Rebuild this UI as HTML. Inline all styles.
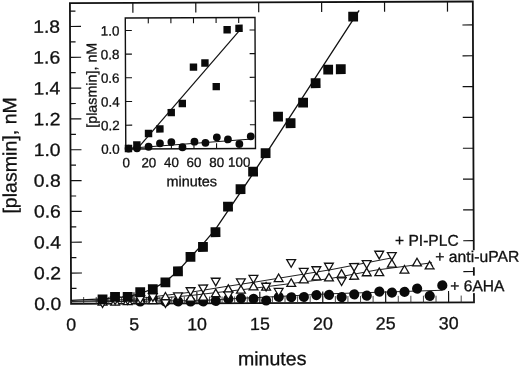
<!DOCTYPE html>
<html lang="en"><head><meta charset="utf-8"><title>plasmin generation</title>
<style>html,body{margin:0;padding:0;background:#fff}svg{display:block}text{font-family:"Liberation Sans",Arial,Helvetica,sans-serif;fill:#111;stroke:#111;stroke-width:0.3px}</style></head><body>
<svg width="520" height="367" viewBox="0 0 520 367">
<rect width="520" height="367" fill="#fff"/>
<g transform="rotate(-0.22 272 153)">
<g stroke="#111" stroke-width="1.8" fill="none" stroke-linecap="butt">
<rect x="70.5" y="2.3" width="402.9" height="300.8"/>
<path d="M83.09 303.1v-6.8 M95.67 303.1v-6.8 M108.25 303.1v-6.8 M120.84 303.1v-6.8 M146.01 303.1v-6.8 M158.59 303.1v-6.8 M171.18 303.1v-6.8 M183.77 303.1v-6.8 M208.94 303.1v-6.8 M221.52 303.1v-6.8 M234.11 303.1v-6.8 M246.69 303.1v-6.8 M271.86 303.1v-6.8 M284.45 303.1v-6.8 M297.03 303.1v-6.8 M309.62 303.1v-6.8 M334.79 303.1v-6.8 M347.37 303.1v-6.8 M359.96 303.1v-6.8 M372.54 303.1v-6.8 M397.71 303.1v-6.8 M410.30 303.1v-6.8 M422.88 303.1v-6.8 M435.47 303.1v-6.8 M460.64 303.1v-6.8 M473.22 303.1v-6.8 " stroke-width="0.9" stroke="#333"/>
<path d="M133.43 303.1v-11.5 M133.43 2.3v10 M196.35 303.1v-11.5 M196.35 2.3v10 M259.27 303.1v-11.5 M259.27 2.3v10 M322.20 303.1v-11.5 M322.20 2.3v10 M385.12 303.1v-11.5 M385.12 2.3v10 M448.05 303.1v-11.5 M448.05 2.3v10 M70.5 287.69h5.5 M70.5 272.28h11 M473.4 272.28h-10.5 M70.5 256.87h5.5 M70.5 241.46h11 M473.4 241.46h-10.5 M70.5 226.05h5.5 M70.5 210.64h11 M473.4 210.64h-10.5 M70.5 195.23h5.5 M70.5 179.82h11 M473.4 179.82h-10.5 M70.5 164.41h5.5 M70.5 149.00h11 M473.4 149.00h-10.5 M70.5 133.59h5.5 M70.5 118.18h11 M473.4 118.18h-10.5 M70.5 102.77h5.5 M70.5 87.36h11 M473.4 87.36h-10.5 M70.5 71.95h5.5 M70.5 56.54h11 M473.4 56.54h-10.5 M70.5 41.13h5.5 M70.5 25.72h11 M473.4 25.72h-10.5 M70.5 10.31h5.5 " stroke-width="1.2"/>
</g>
<text transform="translate(60.6 309.2) scale(1.09 1)" font-size="17.8" text-anchor="end">0.0</text>
<text transform="translate(60.6 278.4) scale(1.09 1)" font-size="17.8" text-anchor="end">0.2</text>
<text transform="translate(60.6 247.6) scale(1.09 1)" font-size="17.8" text-anchor="end">0.4</text>
<text transform="translate(60.6 216.7) scale(1.09 1)" font-size="17.8" text-anchor="end">0.6</text>
<text transform="translate(60.6 185.9) scale(1.09 1)" font-size="17.8" text-anchor="end">0.8</text>
<text transform="translate(60.6 155.1) scale(1.09 1)" font-size="17.8" text-anchor="end">1.0</text>
<text transform="translate(60.6 124.3) scale(1.09 1)" font-size="17.8" text-anchor="end">1.2</text>
<text transform="translate(60.6 93.5) scale(1.09 1)" font-size="17.8" text-anchor="end">1.4</text>
<text transform="translate(60.6 62.6) scale(1.09 1)" font-size="17.8" text-anchor="end">1.6</text>
<text transform="translate(60.6 31.8) scale(1.09 1)" font-size="17.8" text-anchor="end">1.8</text>
<text transform="translate(70.5 329.8) scale(1.02 1)" font-size="17.5" text-anchor="middle">0</text>
<text transform="translate(133.4 329.8) scale(1.02 1)" font-size="17.5" text-anchor="middle">5</text>
<text transform="translate(196.4 329.8) scale(1.02 1)" font-size="17.5" text-anchor="middle">10</text>
<text transform="translate(259.3 329.8) scale(1.02 1)" font-size="17.5" text-anchor="middle">15</text>
<text transform="translate(322.2 329.8) scale(1.02 1)" font-size="17.5" text-anchor="middle">20</text>
<text transform="translate(385.1 329.8) scale(1.02 1)" font-size="17.5" text-anchor="middle">25</text>
<text transform="translate(448.1 329.8) scale(1.02 1)" font-size="17.5" text-anchor="middle">30</text>
<text transform="translate(271.4 365.2) scale(1.02 1)" font-size="19.2" text-anchor="middle">minutes</text>
<text transform="translate(16.4 154.4) rotate(-90) scale(1.015 1)" font-size="19.3" text-anchor="middle">[plasmin], nM</text>
<g stroke="#111" fill="none" stroke-width="1.3" stroke-linejoin="round">
<polyline points="70.5,299.6 101.9,298.2 127.1,296.0 139.7,293.0 152.2,288.4 164.8,281.5 177.4,270.7 190.0,256.9 202.5,243.8 215.1,229.2 227.7,210.7 240.3,192.2 252.8,173.7 265.4,154.5 359.7,10.8"/>
</g>
<g stroke="#222" fill="none" stroke-width="1">
<polyline points="70.5,300.7 130.0,299.0 190.0,292.0 220.7,287.0 245.0,283.5 330.0,269.9 392.0,258.1"/>
<polyline points="120.0,300.9 190.0,295.2 245.0,289.1 330.0,278.7 376.0,270.4 431.6,263.3"/>
<polyline points="70.5,301.2 200.0,300.2 330.0,294.0 442.0,290.9"/>
</g>
<g fill="#0a0a0a">
<circle cx="139.7" cy="301.0" r="5.1"/>
<circle cx="152.3" cy="298.0" r="5.1"/>
<circle cx="164.9" cy="301.1" r="5.1"/>
<circle cx="177.5" cy="301.1" r="5.1"/>
<circle cx="190.1" cy="301.2" r="5.1"/>
<circle cx="202.6" cy="301.2" r="5.1"/>
<circle cx="215.2" cy="300.6" r="5.1"/>
<circle cx="227.8" cy="298.8" r="5.1"/>
<circle cx="240.4" cy="298.2" r="5.1"/>
<circle cx="253.0" cy="298.7" r="5.1"/>
<circle cx="265.6" cy="300.5" r="5.1"/>
<circle cx="278.2" cy="297.0" r="5.1"/>
<circle cx="290.7" cy="297.3" r="5.1"/>
<circle cx="303.3" cy="297.1" r="5.1"/>
<circle cx="315.9" cy="295.2" r="5.1"/>
<circle cx="328.5" cy="295.1" r="5.1"/>
<circle cx="341.1" cy="297.3" r="5.1"/>
<circle cx="353.7" cy="294.6" r="5.1"/>
<circle cx="366.2" cy="295.9" r="5.1"/>
<circle cx="378.8" cy="292.0" r="5.1"/>
<circle cx="391.4" cy="293.0" r="5.1"/>
<circle cx="404.0" cy="292.4" r="5.1"/>
<circle cx="416.6" cy="289.2" r="5.1"/>
<circle cx="429.2" cy="296.4" r="5.1"/>
<circle cx="441.8" cy="286.1" r="5.1"/>
</g>
<g fill="#fff" stroke="#111" stroke-width="1.3" stroke-linejoin="miter">
<path d="M97.56 304.40L106.36 304.40L101.96 296.80Z"/>
<path d="M110.15 304.45L118.95 304.45L114.55 296.85Z"/>
<path d="M122.73 303.99L131.53 303.99L127.13 296.39Z"/>
<path d="M135.32 302.84L144.12 302.84L139.72 295.24Z"/>
<path d="M147.90 303.19L156.70 303.19L152.30 295.59Z"/>
<path d="M160.49 299.64L169.29 299.64L164.89 292.04Z"/>
<path d="M185.66 300.74L194.46 300.74L190.06 293.14Z"/>
<path d="M198.24 299.78L207.04 299.78L202.64 292.18Z"/>
<path d="M210.83 296.53L219.63 296.53L215.23 288.93Z"/>
<path d="M223.41 292.28L232.21 292.28L227.81 284.68Z"/>
<path d="M236.00 292.93L244.80 292.93L240.40 285.33Z"/>
<path d="M248.58 289.78L257.38 289.78L252.98 282.18Z"/>
<path d="M261.17 290.03L269.97 290.03L265.57 282.43Z"/>
<path d="M273.75 281.57L282.55 281.57L278.15 273.97Z"/>
<path d="M286.34 286.42L295.14 286.42L290.74 278.82Z"/>
<path d="M298.92 282.92L307.72 282.92L303.32 275.32Z"/>
<path d="M311.51 280.02L320.31 280.02L315.91 272.42Z"/>
<path d="M324.09 281.17L332.89 281.17L328.49 273.57Z"/>
<path d="M336.68 277.52L345.48 277.52L341.08 269.92Z"/>
<path d="M349.26 279.56L358.06 279.56L353.66 271.96Z"/>
<path d="M361.85 276.11L370.65 276.11L366.25 268.51Z"/>
<path d="M374.43 276.06L383.23 276.06L378.83 268.46Z"/>
<path d="M387.02 267.51L395.82 267.51L391.42 259.91Z"/>
<path d="M399.60 273.56L408.40 273.56L404.00 265.96Z"/>
<path d="M412.19 266.41L420.99 266.41L416.59 258.81Z"/>
<path d="M424.77 269.55L433.57 269.55L429.17 261.95Z"/>
<path d="M97.56 299.30L106.36 299.30L101.96 306.90Z"/>
<path d="M110.15 296.35L118.95 296.35L114.55 303.95Z"/>
<path d="M122.73 296.39L131.53 296.39L127.13 303.99Z"/>
<path d="M135.32 295.44L144.12 295.44L139.72 303.04Z"/>
<path d="M147.90 293.29L156.70 293.29L152.30 300.89Z"/>
<path d="M160.49 299.34L169.29 299.34L164.89 306.94Z"/>
<path d="M173.07 292.59L181.87 292.59L177.47 300.19Z"/>
<path d="M185.66 287.44L194.46 287.44L190.06 295.04Z"/>
<path d="M198.24 284.78L207.04 284.78L202.64 292.38Z"/>
<path d="M210.83 278.03L219.63 278.03L215.23 285.63Z"/>
<path d="M223.41 291.78L232.21 291.78L227.81 299.38Z"/>
<path d="M236.00 278.83L244.80 278.83L240.40 286.43Z"/>
<path d="M248.58 275.38L257.38 275.38L252.98 282.98Z"/>
<path d="M261.17 283.23L269.97 283.23L265.57 290.83Z"/>
<path d="M273.75 288.47L282.55 288.47L278.15 296.07Z"/>
<path d="M286.34 259.72L295.14 259.72L290.74 267.32Z"/>
<path d="M298.92 268.57L307.72 268.57L303.32 276.17Z"/>
<path d="M311.51 266.92L320.31 266.92L315.91 274.52Z"/>
<path d="M324.09 263.47L332.89 263.47L328.49 271.07Z"/>
<path d="M336.68 278.12L345.48 278.12L341.08 285.72Z"/>
<path d="M349.26 263.86L358.06 263.86L353.66 271.46Z"/>
<path d="M361.85 261.01L370.65 261.01L366.25 268.61Z"/>
<path d="M374.43 251.66L383.23 251.66L378.83 259.26Z"/>
<path d="M387.02 253.01L395.82 253.01L391.42 260.61Z"/>
</g>
<g fill="#0a0a0a">
<rect x="97.1" y="293.8" width="9.8" height="9.8"/>
<rect x="109.6" y="291.4" width="9.8" height="9.8"/>
<rect x="122.2" y="291.4" width="9.8" height="9.8"/>
<rect x="134.8" y="286.8" width="9.8" height="9.8"/>
<rect x="147.4" y="283.8" width="9.8" height="9.8"/>
<rect x="160.0" y="277.1" width="9.8" height="9.8"/>
<rect x="172.6" y="266.0" width="9.8" height="9.8"/>
<rect x="185.2" y="251.7" width="9.8" height="9.8"/>
<rect x="197.7" y="241.8" width="9.8" height="9.8"/>
<rect x="210.3" y="227.1" width="9.8" height="9.8"/>
<rect x="222.9" y="201.6" width="9.8" height="9.8"/>
<rect x="235.5" y="184.2" width="9.8" height="9.8"/>
<rect x="248.1" y="166.7" width="9.8" height="9.8"/>
<rect x="260.7" y="148.3" width="9.8" height="9.8"/>
<rect x="273.3" y="111.8" width="9.8" height="9.8"/>
<rect x="285.8" y="118.4" width="9.8" height="9.8"/>
<rect x="298.4" y="97.9" width="9.8" height="9.8"/>
<rect x="311.0" y="78.5" width="9.8" height="9.8"/>
<rect x="323.6" y="65.0" width="9.8" height="9.8"/>
<rect x="336.2" y="64.6" width="9.8" height="9.8"/>
<rect x="348.8" y="12.1" width="9.8" height="9.8"/>
</g>
<rect x="433" y="251" width="87" height="17" fill="#fff"/>
<rect x="449" y="276.5" width="58" height="17.5" fill="#fff"/>
<text transform="translate(394.6 246.3) scale(1.0 1)" font-size="15.6" text-anchor="start">+ PI-PLC</text>
<text transform="translate(434.8 262.7) scale(1.01 1)" font-size="15.6" text-anchor="start">+ anti-uPAR</text>
<text transform="translate(449.8 292.0) scale(1.0 1)" font-size="15.6" text-anchor="start">+ 6AHA</text>
<rect x="125.8" y="17.4" width="129.7" height="131.1" fill="#fff" stroke="#111" stroke-width="1.4"/>
<path d="M148.80 148.5v-5.5 M148.80 17.4v5.5 M171.40 148.5v-5.5 M171.40 17.4v5.5 M194.00 148.5v-5.5 M194.00 17.4v5.5 M216.60 148.5v-5.5 M216.60 17.4v5.5 M239.20 148.5v-5.5 M239.20 17.4v5.5 M125.8 124.62h6.5 M255.5 124.62h-5.5 M125.8 100.94h6.5 M255.5 100.94h-5.5 M125.8 77.26h6.5 M255.5 77.26h-5.5 M125.8 53.58h6.5 M255.5 53.58h-5.5 M125.8 29.90h6.5 M255.5 29.90h-5.5 " stroke="#111" stroke-width="1.1" fill="none"/>
<g font-size="13.4" text-anchor="end">
<text x="119.8" y="153.2">0.0</text>
<text x="119.8" y="129.5">0.2</text>
<text x="119.8" y="105.8">0.4</text>
<text x="119.8" y="82.2">0.6</text>
<text x="119.8" y="58.5">0.8</text>
<text x="119.8" y="34.8">1.0</text>
</g>
<g font-size="13.4" text-anchor="middle">
<text x="126.2" y="166.7">0</text>
<text x="148.8" y="166.7">20</text>
<text x="171.4" y="166.7">40</text>
<text x="194.0" y="166.7">60</text>
<text x="216.6" y="166.7">80</text>
<text x="239.2" y="166.7">100</text>
</g>
<text transform="translate(191.6 185.9) scale(1.02 1)" font-size="14.2" text-anchor="middle">minutes</text>
<text transform="translate(96.8 84.6) rotate(-90) scale(1.0 1)" font-size="14.3" text-anchor="middle">[plasmin], nM</text>
<g stroke="#111" fill="none" stroke-width="1.2">
<path d="M137 148.5L239 31.5"/>
<path d="M126 148 L252 139" stroke-width="1"/>
</g>
<g fill="#0a0a0a">
<circle cx="128.6" cy="148" r="3.9"/>
<circle cx="137" cy="147.8" r="3.9"/>
<circle cx="148.6" cy="146.3" r="3.9"/>
<circle cx="160" cy="142.9" r="3.9"/>
<circle cx="171.4" cy="141.7" r="3.9"/>
<circle cx="182.5" cy="146.9" r="3.9"/>
<circle cx="194.5" cy="141.4" r="3.9"/>
<circle cx="205.5" cy="142.6" r="3.9"/>
<circle cx="216.9" cy="137.1" r="3.9"/>
<circle cx="228" cy="139.2" r="3.9"/>
<circle cx="239.4" cy="143.8" r="3.9"/>
<circle cx="250.8" cy="136.2" r="3.9"/>
<rect x="124.8" y="144.3" width="7.4" height="7.4"/>
<rect x="133.2" y="140.8" width="7.4" height="7.4"/>
<rect x="144.9" y="129.3" width="7.4" height="7.4"/>
<rect x="156.3" y="124.8" width="7.4" height="7.4"/>
<rect x="167.7" y="108.5" width="7.4" height="7.4"/>
<rect x="178.8" y="99.5" width="7.4" height="7.4"/>
<rect x="190.1" y="63.1" width="7.4" height="7.4"/>
<rect x="201.6" y="59.1" width="7.4" height="7.4"/>
<rect x="212.8" y="82.7" width="7.4" height="7.4"/>
<rect x="223.9" y="25.9" width="7.4" height="7.4"/>
<rect x="235.8" y="24.5" width="7.4" height="7.4"/>
</g>
</g>
</svg></body></html>
